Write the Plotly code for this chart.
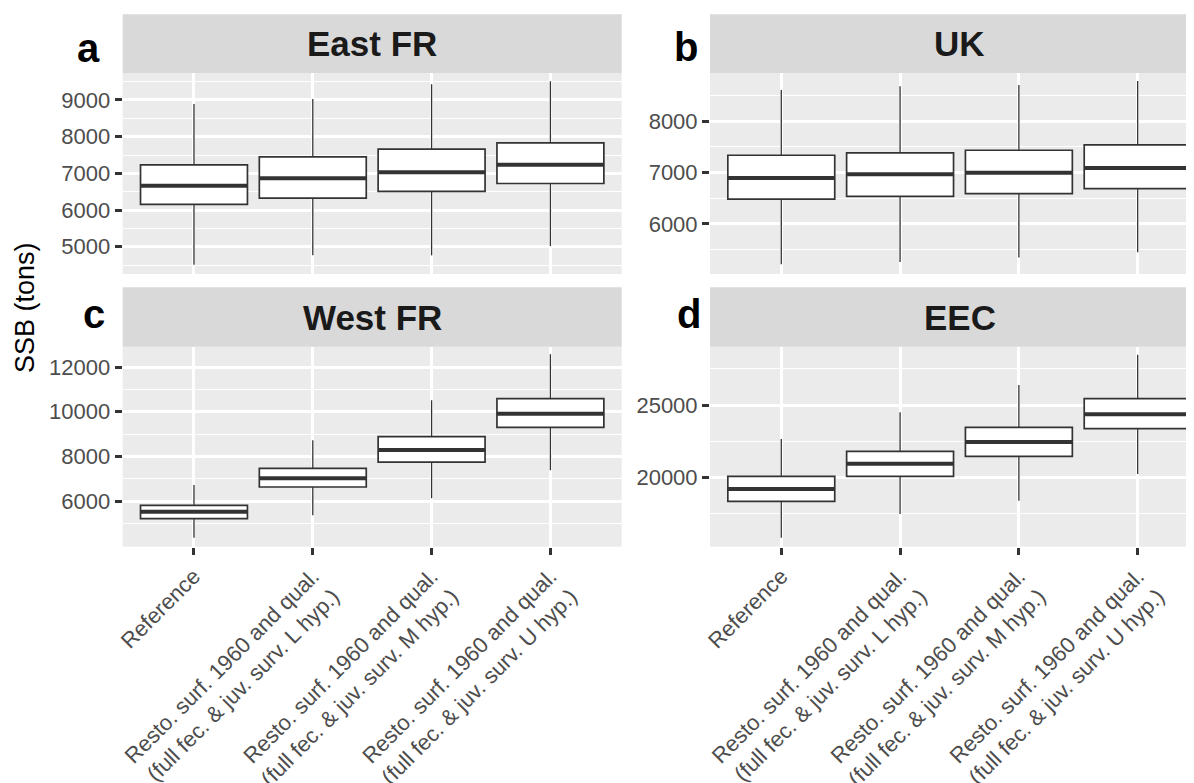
import plotly.graph_objects as go

W, H = 1194, 783
OFF = 8  # page body margin of the html page

# ---------------- data ----------------
categories = [
    "Reference",
    "Resto. surf. 1960 and qual.<br>(full fec. & juv. surv. L hyp.)",
    "Resto. surf. 1960 and qual.<br>(full fec. & juv. surv. M hyp.)",
    "Resto. surf. 1960 and qual.<br>(full fec. & juv. surv. U hyp.)",
]
regions = ["East FR", "UK", "West FR", "EEC"]
panel_letters = ["a", "b", "c", "d"]

east_fr_low = [4510, 4764, 4764, 5018]
east_fr_q1 = [6152, 6324, 6506, 6723]
east_fr_med = [6660, 6868, 7032, 7231]
east_fr_q3 = [7231, 7449, 7658, 7830]
east_fr_high = [8891, 9027, 9426, 9508]

uk_low = [5215, 5261, 5345, 5450]
uk_q1 = [6485, 6537, 6590, 6687]
uk_med = [6896, 6967, 7000, 7091]
uk_q3 = [7339, 7384, 7436, 7541]
uk_high = [8609, 8681, 8707, 8785]

west_fr_low = [4358, 5358, 6120, 7373]
west_fr_q1 = [5209, 6627, 7746, 9299]
west_fr_med = [5522, 7015, 8284, 9910]
west_fr_q3 = [5806, 7463, 8881, 10582]
west_fr_high = [6716, 8716, 10507, 12567]

eec_low = [15830, 17466, 18387, 20230]
eec_q1 = [18341, 20069, 21452, 23364]
eec_med = [19194, 20945, 22442, 24355]
eec_q3 = [20069, 21797, 23456, 25437]
eec_high = [22650, 24493, 26382, 28479]

east_fr_ticks = [5000, 6000, 7000, 8000, 9000]
east_fr_minor = [4500, 5500, 6500, 7500, 8500, 9500]
uk_ticks = [6000, 7000, 8000]
uk_minor = [5500, 6500, 7500, 8500]
west_fr_ticks = [6000, 8000, 10000, 12000]
west_fr_minor = [5000, 7000, 9000, 11000]
eec_ticks = [20000, 25000]
eec_minor = [17500, 22500, 27500]

y_title = "SSB (tons)"

# ---------------- layout helpers ----------------
def fx(px):
    return min(1.0, (px - OFF) / W)

def fy(py):
    return 1 - (py - OFF) / H

FONT = "Liberation Sans, Arial, sans-serif"
BOXW = 0.9
positions = [1, 2, 3, 4]
UNIT = 118.8  # pixels per category

panels = [
    dict(data=(east_fr_low, east_fr_q1, east_fr_med, east_fr_q3, east_fr_high),
         ticks=east_fr_ticks, minor=east_fr_minor, yr=[4256, 9727],
         px=(122.7, 621.7), py=(73.3, 274.0), strip=(14.3, 73.3), xr=[0.4, 4.6],
         letter_pos=(88, 48), bottom=False),
    dict(data=(uk_low, uk_q1, uk_med, uk_q3, uk_high),
         ticks=uk_ticks, minor=uk_minor, yr=[5026, 8935],
         px=(710.0, 1202.0), py=(73.3, 274.0), strip=(14.3, 73.3),
         xr=[0.4, 0.4 + (1202 - 710) / UNIT], full_right=1209.0,
         letter_pos=(686, 47), bottom=False),
    dict(data=(west_fr_low, west_fr_q1, west_fr_med, west_fr_q3, west_fr_high),
         ticks=west_fr_ticks, minor=west_fr_minor, yr=[3955, 12910],
         px=(122.7, 621.7), py=(346.7, 546.7), strip=(287.3, 346.7), xr=[0.4, 4.6],
         letter_pos=(94, 314), bottom=True),
    dict(data=(eec_low, eec_q1, eec_med, eec_q3, eec_high),
         ticks=eec_ticks, minor=eec_minor, yr=[15207, 29032],
         px=(710.0, 1202.0), py=(346.7, 546.7), strip=(287.3, 346.7),
         xr=[0.4, 0.4 + (1202 - 710) / UNIT], full_right=1209.0,
         letter_pos=(689, 314), bottom=True),
]

fig = go.Figure()
shapes = []
annotations = []
layout_axes = {}

for k, p in enumerate(panels):
    n = "" if k == 0 else str(k + 1)
    xa, ya = "x" + n, "y" + n
    low, q1, med, q3, high = p["data"]

    # whiskers (thin)
    wx, wy = [], []
    for pos, lo, a, b, hi in zip(positions, low, q1, q3, high):
        wx += [pos, pos, None, pos, pos, None]
        wy += [lo, a, None, b, hi, None]
    fig.add_trace(go.Scatter(
        x=wx, y=wy, mode="lines", line=dict(color="#333333", width=1.3),
        showlegend=False, hoverinfo="skip", xaxis=xa, yaxis=ya,
    ))
    # boxes
    fig.add_trace(go.Box(
        x=positions, q1=q1, median=med, q3=q3, lowerfence=q1, upperfence=q3,
        width=BOXW, whiskerwidth=0, fillcolor="white",
        line=dict(color="#333333", width=1.7),
        boxpoints=False, showlegend=False, hoverinfo="skip",
        xaxis=xa, yaxis=ya,
    ))
    # thick medians
    mx, my = [], []
    for pos, m in zip(positions, med):
        mx += [pos - BOXW / 2, pos + BOXW / 2, None]
        my += [m, m, None]
    fig.add_trace(go.Scatter(
        x=mx, y=my, mode="lines", line=dict(color="#333333", width=4),
        showlegend=False, hoverinfo="skip", xaxis=xa, yaxis=ya,
    ))

    x0, x1 = p["px"]
    yt, yb = p["py"]
    layout_axes["xaxis" + n] = dict(
        domain=[fx(x0), fx(x1)], range=p["xr"], anchor=ya,
        tickmode="array", tickvals=positions, ticktext=categories,
        showticklabels=p["bottom"], ticks="outside" if p["bottom"] else "",
        ticklen=7, tickwidth=3, tickcolor="#333333", tickangle=-45,
        tickfont=dict(family=FONT, size=22, color="#4D4D4D"),
        showgrid=True, gridcolor="white", gridwidth=2.6,
        zeroline=False, showline=False, automargin=False, fixedrange=True,
    )
    layout_axes["yaxis" + n] = dict(
        domain=[fy(yb), fy(yt)], range=p["yr"], anchor=xa,
        tickmode="array", tickvals=p["ticks"], ticktext=[str(t) for t in p["ticks"]],
        ticks="outside", ticklen=7, tickwidth=3, tickcolor="#333333",
        tickfont=dict(family=FONT, size=22, color="#4D4D4D"),
        showgrid=True, gridcolor="white", gridwidth=2.6,
        minor=dict(tickmode="array", tickvals=p["minor"], showgrid=True,
                   gridcolor="white", gridwidth=1.3, ticks=""),
        zeroline=False, showline=False, automargin=False, fixedrange=True,
    )

    s0, s1 = p["strip"]
    shapes.append(dict(type="rect", xref="paper", yref="paper",
                       x0=fx(x0), x1=fx(x1), y0=fy(s1), y1=fy(s0),
                       fillcolor="#D9D9D9", line=dict(width=0), layer="below"))
    full_right = p.get("full_right", x1)
    annotations.append(dict(
        text="<b>" + regions[k] + "</b>", xref="paper", yref="paper",
        x=(((x0 + full_right) / 2) - OFF) / W, y=fy((s0 + s1) / 2),
        xanchor="center", yanchor="middle", showarrow=False,
        font=dict(family=FONT, size=35, color="#1A1A1A"),
    ))
    lx, ly = p["letter_pos"]
    annotations.append(dict(
        text="<b>" + panel_letters[k] + "</b>", xref="paper", yref="paper",
        x=fx(lx), y=fy(ly), xanchor="center", yanchor="middle", showarrow=False,
        font=dict(family=FONT, size=40, color="black"),
    ))

annotations.append(dict(
    text=y_title, xref="paper", yref="paper", x=fx(25), y=fy(308),
    xanchor="center", yanchor="middle", textangle=-90, showarrow=False,
    font=dict(family=FONT, size=27, color="black"),
))

fig.update_layout(
    width=W, height=H, autosize=False,
    margin=dict(l=0, r=0, t=0, b=0),
    paper_bgcolor="white", plot_bgcolor="#EBEBEB",
    shapes=shapes, annotations=annotations, showlegend=False,
    **layout_axes,
)

fig.write_html("out.html")
